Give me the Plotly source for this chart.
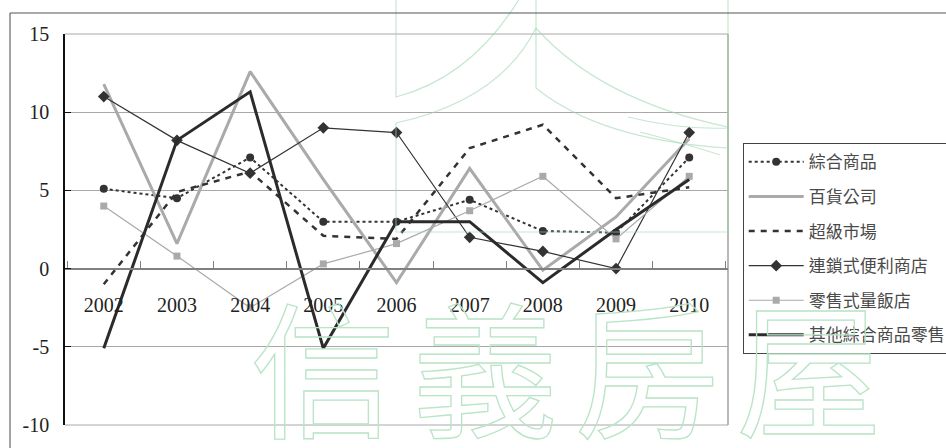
import plotly.graph_objects as go

# Annual growth rates (%) by retail category
years = ["2002", "2003", "2004", "2005", "2006", "2007", "2008", "2009", "2010"]
general_merch = [5.1, 4.5, 7.1, 3.0, 3.0, 4.4, 2.4, 2.3, 7.1]
department = [11.8, 1.6, 12.6, 5.7, -0.9, 6.4, -0.1, 3.3, 8.3]
supermarket = [-1.0, 4.9, 6.2, 2.1, 1.9, 7.7, 9.2, 4.5, 5.2]
convenience = [11.0, 8.2, 6.1, 9.0, 8.7, 2.0, 1.1, 0.0, 8.7]
hypermarket = [4.0, 0.8, -2.5, 0.3, 1.6, 3.7, 5.9, 1.9, 5.9]
other_retail = [-5.1, 8.2, 11.3, -5.1, 3.0, 3.0, -0.9, 2.5, 5.7]

names = ["綜合商品", "百貨公司", "超級市場", "連鎖式便利商店", "零售式量飯店", "其他綜合商品零售"]
y_ticks = [-10, -5, 0, 5, 10, 15]

W, H = 946, 448
L, R, T, B = 65, 728, 34, 425


def px(x):
    return (x - L) / (R - L)


def py(y):
    return (B - y) / (B - T)


fig = go.Figure()

styles = [
    dict(line=dict(color="#333333", width=2, dash="dot"),
         marker=dict(symbol="circle", size=8, color="#333333"), mode="lines+markers"),
    dict(line=dict(color="#aaaaaa", width=3), mode="lines"),
    dict(line=dict(color="#333333", width=2.5, dash="6px,6px"), mode="lines"),
    dict(line=dict(color="#333333", width=1.2),
         marker=dict(symbol="diamond", size=9, color="#333333"), mode="lines+markers"),
    dict(line=dict(color="#aaaaaa", width=1.2),
         marker=dict(symbol="square", size=7, color="#aaaaaa"), mode="lines+markers"),
    dict(line=dict(color="#2b2b2b", width=3), mode="lines"),
]
series = [general_merch, department, supermarket, convenience, hypermarket, other_retail]

for name, vals, st in zip(names, series, styles):
    fig.add_trace(go.Scatter(x=years, y=vals, name=name, legendgroup=name, **st))

# watermark logo strokes (light green outlines)
wm = "rgba(160,215,178,0.6)"


def path(cmds):
    out = []
    for c in cmds:
        if isinstance(c, str):
            out.append(c)
        else:
            out.append(f"{px(c[0]):.4f},{py(c[1]):.4f}")
    return " ".join(out)


logo_paths = [
    ["M", (396, -20), "L", (396, 97), "Q", (480, 75), (530, -20)],
    ["M", (396, 123), "Q", (500, 100), (536, 28)],
    ["M", (396, 123), "L", (396, 232), "L", (728, 232), "L", (728, -20)],
    ["M", (536, -20), "L", (536, 88), "Q", (600, 140), (728, 148)],
    ["M", (536, 28), "Q", (600, 100), (728, 127)],
    ["M", (628, 117), "Q", (680, 130), (728, 128)],
    ["M", (640, 132), "Q", (690, 145), (720, 155)],
]

shapes = []
for p in logo_paths:
    shapes.append(dict(type="path", xref="paper", yref="paper", path=path(p),
                       line=dict(color=wm, width=1.2), layer="above"))

# plot-area frame: top and bottom gridlines at the range ends, right border
for yv in (0, 1):
    shapes.append(dict(type="line", xref="paper", yref="paper", x0=0, x1=1, y0=yv, y1=yv,
                       line=dict(color="#a8a8a8", width=1), layer="below"))
shapes.append(dict(type="line", xref="paper", yref="paper", x0=1, x1=1, y0=0, y1=1,
                   line=dict(color="#a0a0a0", width=1.5), layer="below"))
# chart-area border (left and top edges)
shapes.append(dict(type="line", xref="paper", yref="paper", x0=px(10), x1=px(10),
                   y0=py(13), y1=py(460), line=dict(color="#666666", width=1.2)))
shapes.append(dict(type="line", xref="paper", yref="paper", x0=px(10), x1=px(960),
                   y0=py(13), y1=py(13), line=dict(color="#555555", width=1.2)))

annotations = [
    dict(text='<span style="fill:none;stroke:rgb(185,228,198);stroke-width:1.3px;'
              'letter-spacing:16px">信義房屋</span>',
         x=px(574), y=py(362), xref="paper", yref="paper", showarrow=False,
         xanchor="center", yanchor="middle",
         font=dict(family="Noto Sans CJK TC", size=146, color="rgba(0,0,0,0)")),
]

fig.update_layout(
    width=W, height=H,
    margin=dict(l=L, r=W - R, t=T, b=H - B, autoexpand=False),
    paper_bgcolor="white", plot_bgcolor="white",
    font=dict(family="Liberation Serif", size=20, color="#222222"),
    showlegend=True,
    legend=dict(x=px(742.7), y=py(143.3), xanchor="left", yanchor="top",
                bordercolor="#444444", borderwidth=1, bgcolor="rgba(255,255,255,0)",
                font=dict(family="Noto Sans CJK TC", size=17, color="#4a4a4a"),
                itemwidth=55, traceorder="grouped", tracegroupgap=9.5),
    shapes=shapes,
    annotations=annotations,
    xaxis=dict(type="category", anchor="free", position=py(269),
               showline=True, linecolor="#808080", linewidth=1.5,
               ticks="inside", ticklen=7, tickcolor="#808080", tickwidth=1,
               tickson="boundaries", showgrid=False, zeroline=False,
               ticklabelstandoff=18, tickfont=dict(size=20, color="#222222")),
    yaxis=dict(range=[-10, 15], tickvals=y_ticks, ticktext=[str(v) for v in y_ticks],
               showline=True, linecolor="#111111", linewidth=1.5,
               ticks="inside", ticklen=6, tickcolor="#111111",
               showgrid=True, gridcolor="#a8a8a8", gridwidth=1, zeroline=False,
               ticklabelstandoff=10, tickfont=dict(size=20, color="#222222")),
)

fig.write_html("out.html")
